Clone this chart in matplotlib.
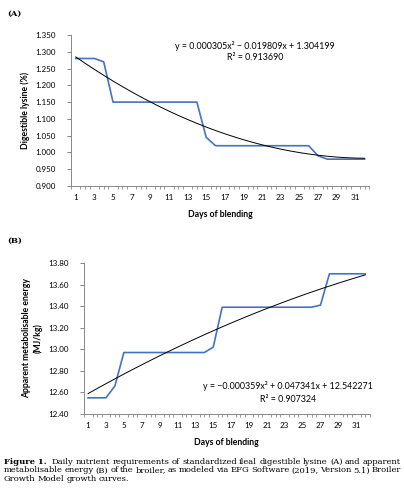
import numpy as np
import matplotlib
matplotlib.use("Agg")
import matplotlib.pyplot as plt

# data
days = np.arange(1, 33)
lysine = [1.28, 1.28, 1.28, 1.27, 1.15, 1.15, 1.15, 1.15, 1.15, 1.15, 1.15, 1.15, 1.15, 1.15,
          1.045, 1.02, 1.02, 1.02, 1.02, 1.02, 1.02, 1.02, 1.02, 1.02, 1.02, 1.02,
          0.99, 0.98, 0.98, 0.98, 0.98, 0.98]
ame = [12.55, 12.55, 12.55, 12.66, 12.97, 12.97, 12.97, 12.97, 12.97, 12.97, 12.97, 12.97, 12.97, 12.97,
       13.02, 13.39, 13.39, 13.39, 13.39, 13.39, 13.39, 13.39, 13.39, 13.39, 13.39, 13.39,
       13.41, 13.70, 13.70, 13.70, 13.70, 13.70]
# trendline coefficients printed on the chart
lys_coef = [0.000305, -0.019809, 1.304199]
ame_coef = [-0.000359, 0.047341, 12.542271]
lys_ticks = [0.900, 0.950, 1.000, 1.050, 1.100, 1.150, 1.200, 1.250, 1.300, 1.350]
ame_ticks = [12.40, 12.60, 12.80, 13.00, 13.20, 13.40, 13.60, 13.80]
x_labels = list(range(1, 33, 2))

caption = [
    "Daily nutrient requirements of standardized ileal digestible lysine (A) and apparent",
    "metabolisable energy (B) of the broiler, as modeled via EFG Software (2019, Version 5.1) Broiler",
    "Growth Model growth curves.",
]

BLUE = "#4472C4"
GREY = "#888888"
SANS = ["Lato", "DejaVu Sans"]
SERIF = ["DejaVu Serif"]
FS = 5.8
EQ_FS = 6.4
CAP_FS = 6.0

fig = plt.figure(figsize=(4.04, 5.0), dpi=100)


def style_axis(ax, yticks, fmt):
    for s in ["top", "right"]:
        ax.spines[s].set_visible(False)
    for s in ["left", "bottom"]:
        ax.spines[s].set_color(GREY)
        ax.spines[s].set_linewidth(0.7)
    ax.set_xlim(0.5, 32.5)
    ax.set_ylim(yticks[0], yticks[-1])
    ax.set_yticks(yticks)
    ax.set_yticklabels([fmt.format(v) for v in yticks], family=SANS, fontsize=FS)
    ax.set_xticks(x_labels)
    ax.set_xticklabels([str(v) for v in x_labels], family=SANS, fontsize=FS)
    ax.tick_params(axis="x", length=0, pad=6)
    ax.tick_params(axis="y", length=3, color=GREY, width=0.7, pad=8)
    ax.set_xticks(np.arange(0.5, 33, 0.5), minor=True)
    ax.tick_params(axis="x", which="minor", length=2, color=GREY, width=0.6)
    ax.set_xlabel("Days of blending", family=SANS, fontsize=6.2, fontweight="bold", labelpad=6)


# panel A
ax1 = fig.add_axes([0.176, 0.628, 0.738, 0.302])
ax1.plot(days, lysine, color=BLUE, lw=1.2)
ax1.plot(days, np.polyval(lys_coef, days), color="black", lw=0.7)
style_axis(ax1, lys_ticks, "{:.3f}")
ax1.set_ylabel("Digestible lysine (%)", family=SANS, fontsize=6.2, fontweight="bold", labelpad=4)
ax1.text(255 / 404, 1 - 46 / 500, "y = 0.000305x² − 0.019809x + 1.304199",
         transform=fig.transFigure, ha="center", va="center", family=SANS, fontsize=EQ_FS)
ax1.text(255 / 404, 1 - 57 / 500, "R² = 0.913690",
         transform=fig.transFigure, ha="center", va="center", family=SANS, fontsize=EQ_FS)

# panel B
ax2 = fig.add_axes([0.207, 0.172, 0.708, 0.302])
ax2.plot(days, ame, color=BLUE, lw=1.2)
ax2.plot(days, np.polyval(ame_coef, days), color="black", lw=0.7)
style_axis(ax2, ame_ticks, "{:.2f}")
ax2.set_ylabel("Apparent metabolisable energy\n(MJ/kg)", family=SANS, fontsize=6.2, fontweight="bold",
               labelpad=4, linespacing=1.25)
ax2.text(288 / 404, 1 - 386 / 500, "y = −0.000359x² + 0.047341x + 12.542271",
         transform=fig.transFigure, ha="center", va="center", family=SANS, fontsize=EQ_FS)
ax2.text(288 / 404, 1 - 399 / 500, "R² = 0.907324",
         transform=fig.transFigure, ha="center", va="center", family=SANS, fontsize=EQ_FS)

# panel letters
fig.text(0.017, 0.972, "(A)", family=SERIF, fontsize=6, fontweight="bold", va="center")
fig.text(0.017, 0.518, "(B)", family=SERIF, fontsize=6, fontweight="bold", va="center")

# caption, justified to the text block width
fig.canvas.draw()
renderer = fig.canvas.get_renderer()
x0, x1 = 4, 401
rows = [462, 470.5, 479]


def text_width(t):
    return t.get_window_extent(renderer).width


head = fig.text(x0 / 404, 1 - rows[0] / 500, "Figure 1.", family=SERIF, fontsize=CAP_FS,
                fontweight="bold", va="center")
start = x0 + text_width(head) + 5
for i, line in enumerate(caption):
    y = 1 - rows[i] / 500
    left = start if i == 0 else x0
    words = line.split(" ")
    items = [fig.text(0, y, w, family=SERIF, fontsize=CAP_FS, va="center") for w in words]
    widths = [text_width(t) for t in items]
    last = i == len(caption) - 1
    gap = 2.0 if last else max(1.0, (x1 - left - sum(widths)) / (len(words) - 1))
    x = left
    for t, w in zip(items, widths):
        t.set_x(x / 404)
        x += w + gap

fig.savefig("out.png", dpi=100)
